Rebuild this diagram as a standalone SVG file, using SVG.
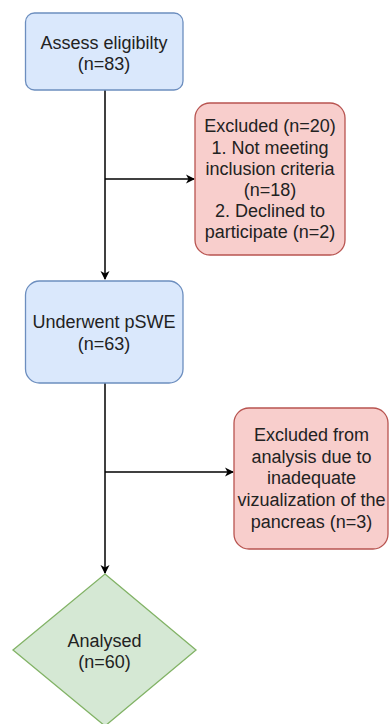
<svg xmlns="http://www.w3.org/2000/svg" width="389" height="724" viewBox="0 0 389 724">
<defs>
<style>
.t{font-family:"Liberation Sans",Arial,sans-serif;font-size:18px;fill:#222;text-anchor:middle}
.blue{fill:#dae8fc;stroke:#6c8ebf;stroke-width:1.3}
.red{fill:#f8cecc;stroke:#b85450;stroke-width:1.3}
.green{fill:#d5e8d4;stroke:#82b366;stroke-width:1.3}
.c{fill:none;stroke:#000;stroke-width:1.5}
</style>
<marker id="ah" markerWidth="10" markerHeight="10" refX="8" refY="5" orient="auto" markerUnits="userSpaceOnUse">
<path d="M0,0.5 L9,5 L0,9.5 L2.5,5 Z" fill="#000"/>
</marker>
</defs>
<rect width="389" height="724" fill="#fff"/>
<g id="connectors">
<line class="c" x1="105" y1="90" x2="105" y2="279" marker-end="url(#ah)"/>
<line class="c" x1="105" y1="179" x2="194" y2="179" marker-end="url(#ah)"/>
<line class="c" x1="105" y1="383" x2="105" y2="573" marker-end="url(#ah)"/>
<line class="c" x1="105" y1="472" x2="233" y2="472" marker-end="url(#ah)"/>
</g>
<g id="assess">
<rect class="blue" x="25.5" y="13" width="157.5" height="77" rx="9"/>
<text class="t" x="104" y="49">Assess eligibilty</text>
<text class="t" x="104" y="70">(n=83)</text>
</g>
<g id="excluded1">
<rect class="red" x="195" y="103" width="150" height="152" rx="15"/>
<text class="t" x="270" y="132">Excluded (n=20)</text>
<text class="t" x="270" y="153.5">1. Not meeting</text>
<text class="t" x="270" y="175">inclusion criteria</text>
<text class="t" x="270" y="196">(n=18)</text>
<text class="t" x="270" y="217">2. Declined to</text>
<text class="t" x="270" y="238">participate (n=2)</text>
</g>
<g id="underwent">
<rect class="blue" x="25.5" y="281" width="157.5" height="102" rx="14"/>
<text class="t" x="104" y="328">Underwent pSWE</text>
<text class="t" x="104" y="349.5">(n=63)</text>
</g>
<g id="excluded2">
<rect class="red" x="234" y="408" width="154" height="141" rx="15"/>
<text class="t" x="311.5" y="441">Excluded from</text>
<text class="t" x="311.5" y="463">analysis due to</text>
<text class="t" x="311.5" y="484">inadequate</text>
<text class="t" x="311.5" y="505.5">vizualization of the</text>
<text class="t" x="311.5" y="528">pancreas (n=3)</text>
</g>
<g id="analysed">
<polygon class="green" points="105,574 196,650 105,726 13,650"/>
<text class="t" x="104.5" y="647">Analysed</text>
<text class="t" x="104.5" y="668">(n=60)</text>
</g>
</svg>
